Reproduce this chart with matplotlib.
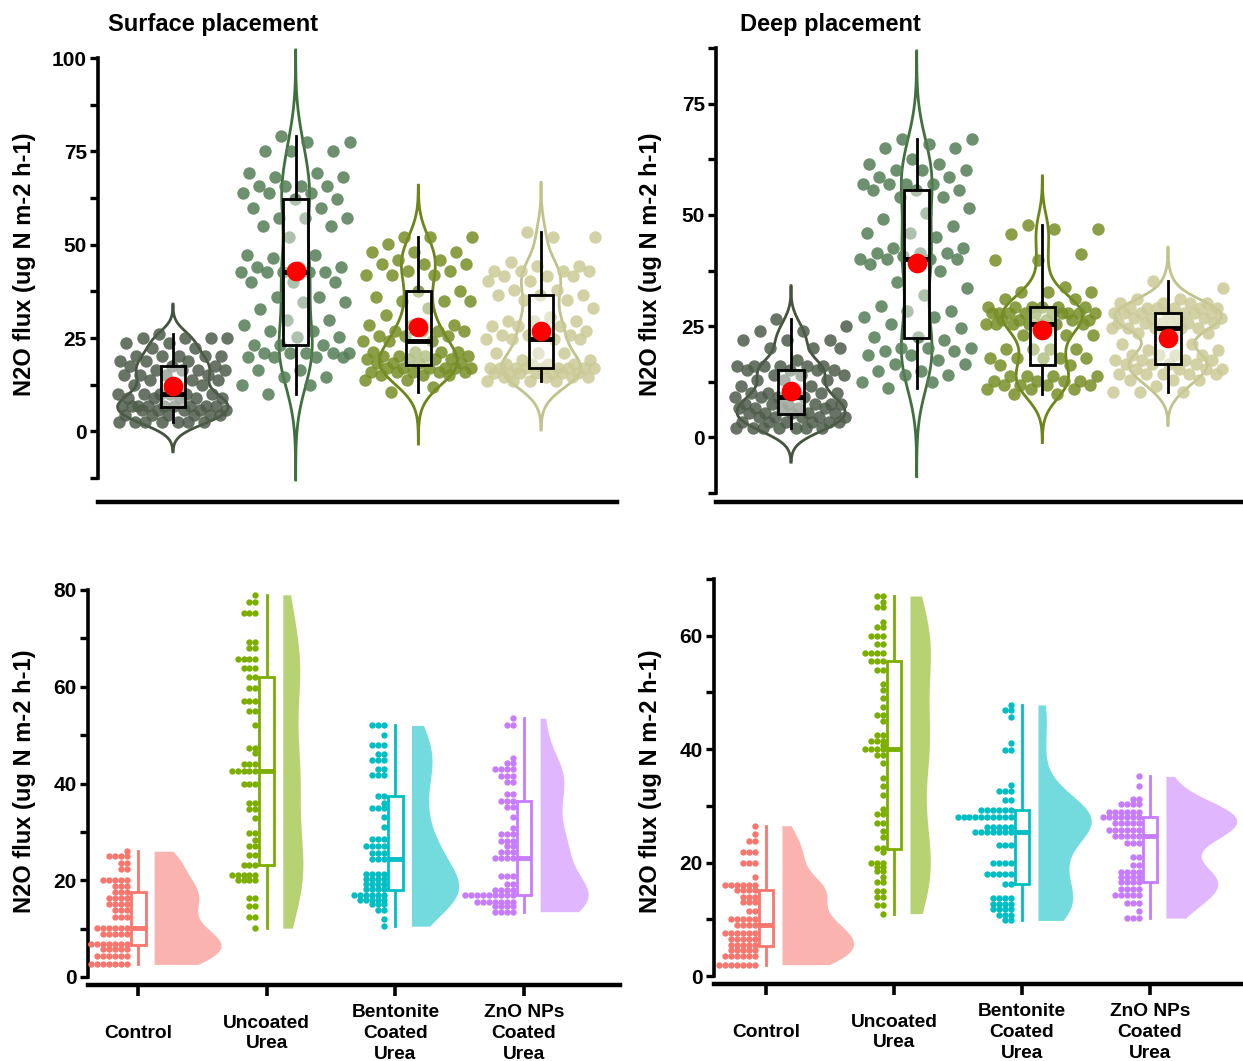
import numpy as np
import matplotlib
matplotlib.use("Agg")
import matplotlib.pyplot as plt
from matplotlib.ticker import MultipleLocator
from matplotlib.patches import Rectangle

plt.rcParams['font.family'] = ['Liberation Sans', 'DejaVu Sans']
plt.rcParams['font.weight'] = 'bold'
plt.rcParams['axes.labelweight'] = 'bold'

# ---------------- data ----------------
categories = ['Control', 'Uncoated\nUrea', 'Bentonite\nCoated\nUrea', 'ZnO NPs\nCoated\nUrea']
panel_titles = ['Surface placement', 'Deep placement']
y_label = 'N2O flux (ug N m-2 h-1)'

surface_control = [26.0, 25.0, 25.0, 25.0, 25.0, 23.6, 23.6, 22.4, 22.4,
                   20.1, 20.1, 20.1, 20.1, 20.1, 18.9, 18.9, 18.9, 17.5, 17.5, 17.5,
                   16.3, 16.3, 16.3, 16.3, 15.1, 15.1, 15.1, 15.1, 13.8, 13.8, 13.8,
                   12.4, 12.4, 12.4, 10.1, 10.1, 10.1, 10.1, 10.1, 10.1,
                   8.8, 8.8, 8.8, 8.8, 8.8, 6.9, 6.9, 6.9, 6.9, 6.9, 6.9, 6.9, 6.9, 6.9,
                   5.7, 5.7, 5.7, 5.7, 5.7, 4.3, 4.3, 4.3, 4.3, 4.3, 4.3,
                   2.6, 2.6, 2.6, 2.6, 2.6, 2.6, 2.6]
surface_uncoated = [79.0, 77.6, 77.6, 75.2, 75.2, 75.2, 69.2, 69.2, 68.0, 68.0,
                    65.8, 65.8, 65.8, 65.8, 63.8, 63.8, 63.8, 62.1, 62.1, 59.7, 59.7,
                    57.1, 57.1, 57.1, 54.9, 54.9, 52.1, 47.3, 47.3, 46.3,
                    44.0, 44.0, 44.0, 42.6, 42.6, 42.6, 42.6, 42.6, 40.0, 40.0, 40.0,
                    36.0, 36.0, 34.7, 34.7, 32.9, 29.8, 29.8, 28.4, 27.0, 27.0,
                    25.3, 25.3, 23.2, 23.2, 23.2, 21.0, 21.0, 21.0, 21.0, 21.0,
                    20.0, 20.0, 20.0, 20.0, 16.3, 16.3, 14.6, 14.6, 12.5, 12.5, 10.1]
surface_bentonite = [52.0, 52.0, 52.0, 50.1, 48.0, 48.0, 48.0, 46.0, 46.0,
                     44.8, 44.8, 44.8, 43.0, 43.0, 41.8, 41.8, 41.8, 37.5, 37.5, 36.0,
                     35.0, 35.0, 35.0, 33.0, 31.1, 28.5, 28.5, 28.5, 27.0, 27.0, 27.0, 27.0,
                     25.6, 25.6, 25.6, 24.3, 24.3, 24.3, 21.3, 21.3, 21.3, 21.3,
                     20.2, 20.2, 20.2, 20.2, 19.3, 19.3, 19.3, 19.3, 18.2, 18.2, 18.2, 18.2,
                     17.0, 17.0, 17.0, 17.0, 17.0, 17.0, 16.0, 16.0, 16.0, 16.0, 16.0,
                     15.0, 15.0, 15.0, 13.8, 13.8, 12.0, 10.5]
surface_zno = [53.5, 52.0, 52.0, 45.3, 44.3, 44.3, 42.9, 42.9, 42.9, 42.9,
               41.5, 41.5, 41.5, 40.4, 40.4, 37.8, 37.8, 36.4, 36.4, 36.4, 35.2, 35.2,
               33.0, 30.7, 29.6, 29.6, 29.6, 28.2, 28.2, 28.2, 27.0, 27.0,
               25.8, 25.8, 25.8, 24.6, 24.6, 24.6, 24.6, 20.9, 20.9, 20.9, 19.2, 19.2,
               18.0, 18.0, 18.0, 18.0, 16.9, 16.9, 16.9, 16.9, 16.9, 16.9, 16.9, 16.9, 16.9,
               15.6, 15.6, 15.6, 15.6, 15.6, 15.6, 15.6, 14.6, 14.6, 14.6, 14.6,
               13.5, 13.5, 13.5, 13.5]

deep_control = [26.5, 25.0, 23.8, 23.8, 21.8, 21.8, 21.8, 20.0, 20.0, 20.0, 17.5,
                16.0, 16.0, 16.0, 16.0, 16.0, 16.0, 15.2, 15.2, 15.2, 15.2,
                14.0, 14.0, 14.0, 13.0, 13.0, 13.0, 11.5, 11.5,
                10.0, 10.0, 10.0, 10.0, 10.0, 9.0, 9.0, 9.0, 9.0,
                7.5, 7.5, 7.5, 7.5, 7.5, 7.5, 6.5, 6.5, 6.5, 6.5, 6.5,
                5.5, 5.5, 5.5, 5.5, 5.5, 4.5, 4.5, 4.5, 4.5, 4.5,
                3.5, 3.5, 3.5, 3.5, 3.5, 3.5, 2.0, 2.0, 2.0, 2.0, 2.0, 2.0, 2.0]
deep_uncoated = [67.0, 67.0, 66.0, 65.0, 65.0, 62.5, 61.5, 61.5, 60.0, 60.0, 60.0,
                 58.5, 58.5, 57.0, 57.0, 57.0, 57.0, 55.5, 55.5, 55.5, 54.0, 54.0,
                 51.5, 50.5, 49.0, 47.5, 46.0, 46.0, 45.0, 42.5, 42.5, 41.5, 41.5, 41.5,
                 40.8, 40.0, 40.0, 40.0, 40.0, 39.0, 39.0, 37.5, 35.0, 33.5, 32.0,
                 29.5, 28.5, 28.5, 27.0, 27.0, 25.5, 24.5, 22.5, 22.5, 21.8,
                 20.0, 20.0, 20.0, 19.3, 19.3, 18.5, 18.5, 17.5, 16.5, 16.5,
                 15.0, 15.0, 14.0, 14.0, 12.5, 12.5, 11.0]
deep_bentonite = [47.8, 46.9, 46.9, 45.6, 41.1, 39.9, 39.9, 33.7, 32.7, 32.7, 32.7,
                  31.1, 31.1, 29.3, 29.3, 29.3, 29.3, 29.3, 29.3,
                  28.0, 28.0, 28.0, 28.0, 28.0, 28.0, 28.0, 28.0, 28.0, 28.0,
                  26.3, 26.3, 26.3, 26.3, 26.3, 25.4, 25.4, 25.4, 25.4, 25.4, 25.4, 25.4,
                  23.1, 23.1, 23.1, 19.9, 19.9, 19.9, 19.9, 17.9, 17.9, 17.9, 17.9, 17.9,
                  16.2, 16.2, 13.8, 13.8, 13.8, 13.8, 12.7, 12.7, 12.7, 12.7,
                  11.8, 11.8, 11.8, 11.8, 10.8, 10.8, 10.8, 9.8, 9.8]
deep_zno = [35.2, 33.5, 31.2, 31.2, 30.3, 30.3, 30.3, 30.3,
            29.0, 29.0, 29.0, 29.0, 29.0, 29.0, 28.0, 28.0, 28.0, 28.0, 28.0, 28.0, 28.0,
            26.9, 26.9, 26.9, 26.9, 26.9, 25.8, 25.8, 25.8, 25.8, 25.8, 25.8,
            24.6, 24.6, 24.6, 24.6, 24.6, 23.5, 23.5, 23.5, 20.9, 20.9, 19.6, 19.6,
            18.4, 18.4, 18.4, 18.4, 17.5, 17.5, 17.5, 17.5, 16.5, 16.5, 16.5, 16.5,
            15.3, 15.3, 15.3, 15.3, 14.3, 14.3, 14.3, 14.3, 14.3,
            12.8, 12.8, 12.8, 11.5, 10.2, 10.2, 10.2]

surface_groups = [surface_control, surface_uncoated, surface_bentonite, surface_zno]
deep_groups = [deep_control, deep_uncoated, deep_bentonite, deep_zno]

# ---------------- styles ----------------
top_point_colors = ['#4e5c4a', '#547d55', '#778e27', '#caca97']
top_line_colors = ['#46533f', '#41703f', '#6d8619', '#c0c38d']
rain_colors = ['#F8766D', '#7CAE00', '#00BFC4', '#C77CFF']

W, H = 1243, 1061
fig = plt.figure(figsize=(W / 100, H / 100), dpi=100)


def px_axes(left, right, top, bottom):
    return fig.add_axes([left / W, 1 - bottom / H, (right - left) / W, (bottom - top) / H])


def nrd0(x):
    sd = np.std(x, ddof=1)
    q75, q25 = np.percentile(x, [75, 25])
    lo = min(sd, (q75 - q25) / 1.34)
    return 0.9 * lo * len(x) ** (-0.2)


def kde(x, grid, bw):
    z = (grid[:, None] - x[None, :]) / bw
    return np.exp(-0.5 * z ** 2).sum(1) / (len(x) * bw * np.sqrt(2 * np.pi))


def style(ax, offset_px, major, minor):
    for s in ['top', 'right']:
        ax.spines[s].set_visible(False)
    ax.spines['left'].set_linewidth(2.6)
    ax.spines['bottom'].set_linewidth(3.2)
    ax.spines['bottom'].set_position(('outward', offset_px * 0.72))
    ax.yaxis.set_major_locator(MultipleLocator(major))
    ax.yaxis.set_minor_locator(MultipleLocator(minor))
    ax.tick_params(axis='y', which='major', length=6, width=2.4, labelsize=15, pad=2)
    ax.tick_params(axis='y', which='minor', length=6, width=2.4)


def top_panel(ax, groups, half_max):
    dens = []
    for g in groups:
        x = np.asarray(g, float)
        bw = nrd0(x)
        grid = np.linspace(x.min() - 3 * bw, x.max() + 3 * bw, 400)
        dens.append((grid, kde(x, grid, bw)))
    scale = half_max / max(d.max() for _, d in dens)
    for i, (g, (grid, d)) in enumerate(zip(groups, dens)):
        x = np.asarray(g, float)
        w = d * scale
        xs = np.concatenate([i - w, (i + w)[::-1]])
        ys = np.concatenate([grid, grid[::-1]])
        ax.fill(xs, ys, facecolor='none', edgecolor=top_line_colors[i], lw=2,
                zorder=1, clip_on=False)
        n = len(x)
        jit = ((np.arange(n) * 0.6180339887 + 0.37) % 1 - 0.5) * 0.9
        ax.scatter(i + jit, x, s=80, color=top_point_colors[i], alpha=0.85,
                   lw=0, zorder=2)
        q1, med, q3 = np.percentile(x, [25, 50, 75])
        ax.plot([i, i], [x.min(), q1], color='black', lw=2, zorder=3)
        ax.plot([i, i], [q3, x.max()], color='black', lw=2, zorder=3)
        ax.add_patch(Rectangle((i - 0.1, q1), 0.2, q3 - q1, facecolor=(1, 1, 1, 0.45),
                               edgecolor='black', lw=2, zorder=3))
        ax.plot([i - 0.1, i + 0.1], [med, med], color='black', lw=3.5, zorder=4,
                solid_capstyle='butt')
        ax.scatter([i], [x.mean()], s=200, color='#ff0000', lw=0, zorder=5)
    ax.set_xticks([])


def bottom_panel(ax, groups, max_w, dot_dx, dot_s):
    dens = []
    for g in groups:
        x = np.asarray(g, float)
        bw = nrd0(x)
        grid = np.linspace(x.min(), x.max(), 400)
        dens.append((grid, kde(x, grid, bw)))
    scale = max_w / max(d.max() for _, d in dens)
    for i, (g, (grid, d)) in enumerate(zip(groups, dens)):
        x = np.asarray(g, float)
        col = rain_colors[i]
        ax.fill_betweenx(grid, i + 0.125, i + 0.125 + d * scale, color=col,
                         alpha=0.55, lw=0, zorder=1)
        q1, med, q3 = np.percentile(x, [25, 50, 75])
        ax.plot([i, i], [x.min(), q1], color=col, lw=2, zorder=2)
        ax.plot([i, i], [q3, x.max()], color=col, lw=2, zorder=2)
        ax.add_patch(Rectangle((i - 0.058, q1), 0.116, q3 - q1, facecolor='white',
                               edgecolor=col, lw=2, zorder=2))
        ax.plot([i - 0.058, i + 0.058], [med, med], color=col, lw=3.5, zorder=3,
                solid_capstyle='butt')
        vals, counts = np.unique(x, return_counts=True)
        for v, c in zip(vals, counts):
            ax.scatter(i - 0.088 - dot_dx * np.arange(c), np.full(c, v), s=dot_s,
                       color=col, lw=0, zorder=3)


def bottom_xaxis(ax):
    ax.set_xticks(range(len(categories)))
    ax.tick_params(axis='x', length=8, width=2.6, pad=27, labelsize=13.8)
    ax.set_xticklabels(categories, fontsize=13.8, fontweight='bold', linespacing=1.28,
                       va='center')


# top-left
ax1 = px_axes(98, 617, 58, 478)
top_panel(ax1, surface_groups, 0.45)
ax1.set_xlim(-0.611, 3.619)
ax1.set_ylim(-12.5, 100)
style(ax1, 24, 25, 12.5)

# top-right
ax2 = px_axes(716, 1243, 48, 493)
top_panel(ax2, deep_groups, 0.43)
ax2.set_xlim(-0.597, 3.597)
ax2.set_ylim(-12.5, 87.5)
style(ax2, 9, 25, 12.5)

# bottom-left
ax3 = px_axes(88, 620, 590, 977)
bottom_panel(ax3, surface_groups, 0.52, 0.046, 21)
ax3.set_xlim(-0.389, 3.746)
ax3.set_ylim(0, 80)
style(ax3, 8, 20, 10)
bottom_xaxis(ax3)

# bottom-right
ax4 = px_axes(714, 1243, 579, 976)
bottom_panel(ax4, deep_groups, 0.56, 0.046, 21)
ax4.set_xlim(-0.406, 3.727)
ax4.set_ylim(0, 70)
style(ax4, 8, 20, 10)
bottom_xaxis(ax4)

# titles and y labels
fig.text(108 / W, 1 - 24 / H, panel_titles[0], ha='left', va='center',
         fontsize=17, fontweight='bold')
fig.text(740 / W, 1 - 24 / H, panel_titles[1], ha='left', va='center',
         fontsize=17, fontweight='bold')
for (xp, yp) in [(25, 264), (650, 264), (25, 781), (650, 781)]:
    fig.text(xp / W, 1 - yp / H, y_label, rotation=90, ha='center', va='center',
             fontsize=17, fontweight='bold')

fig.savefig('out.png', dpi=100)
